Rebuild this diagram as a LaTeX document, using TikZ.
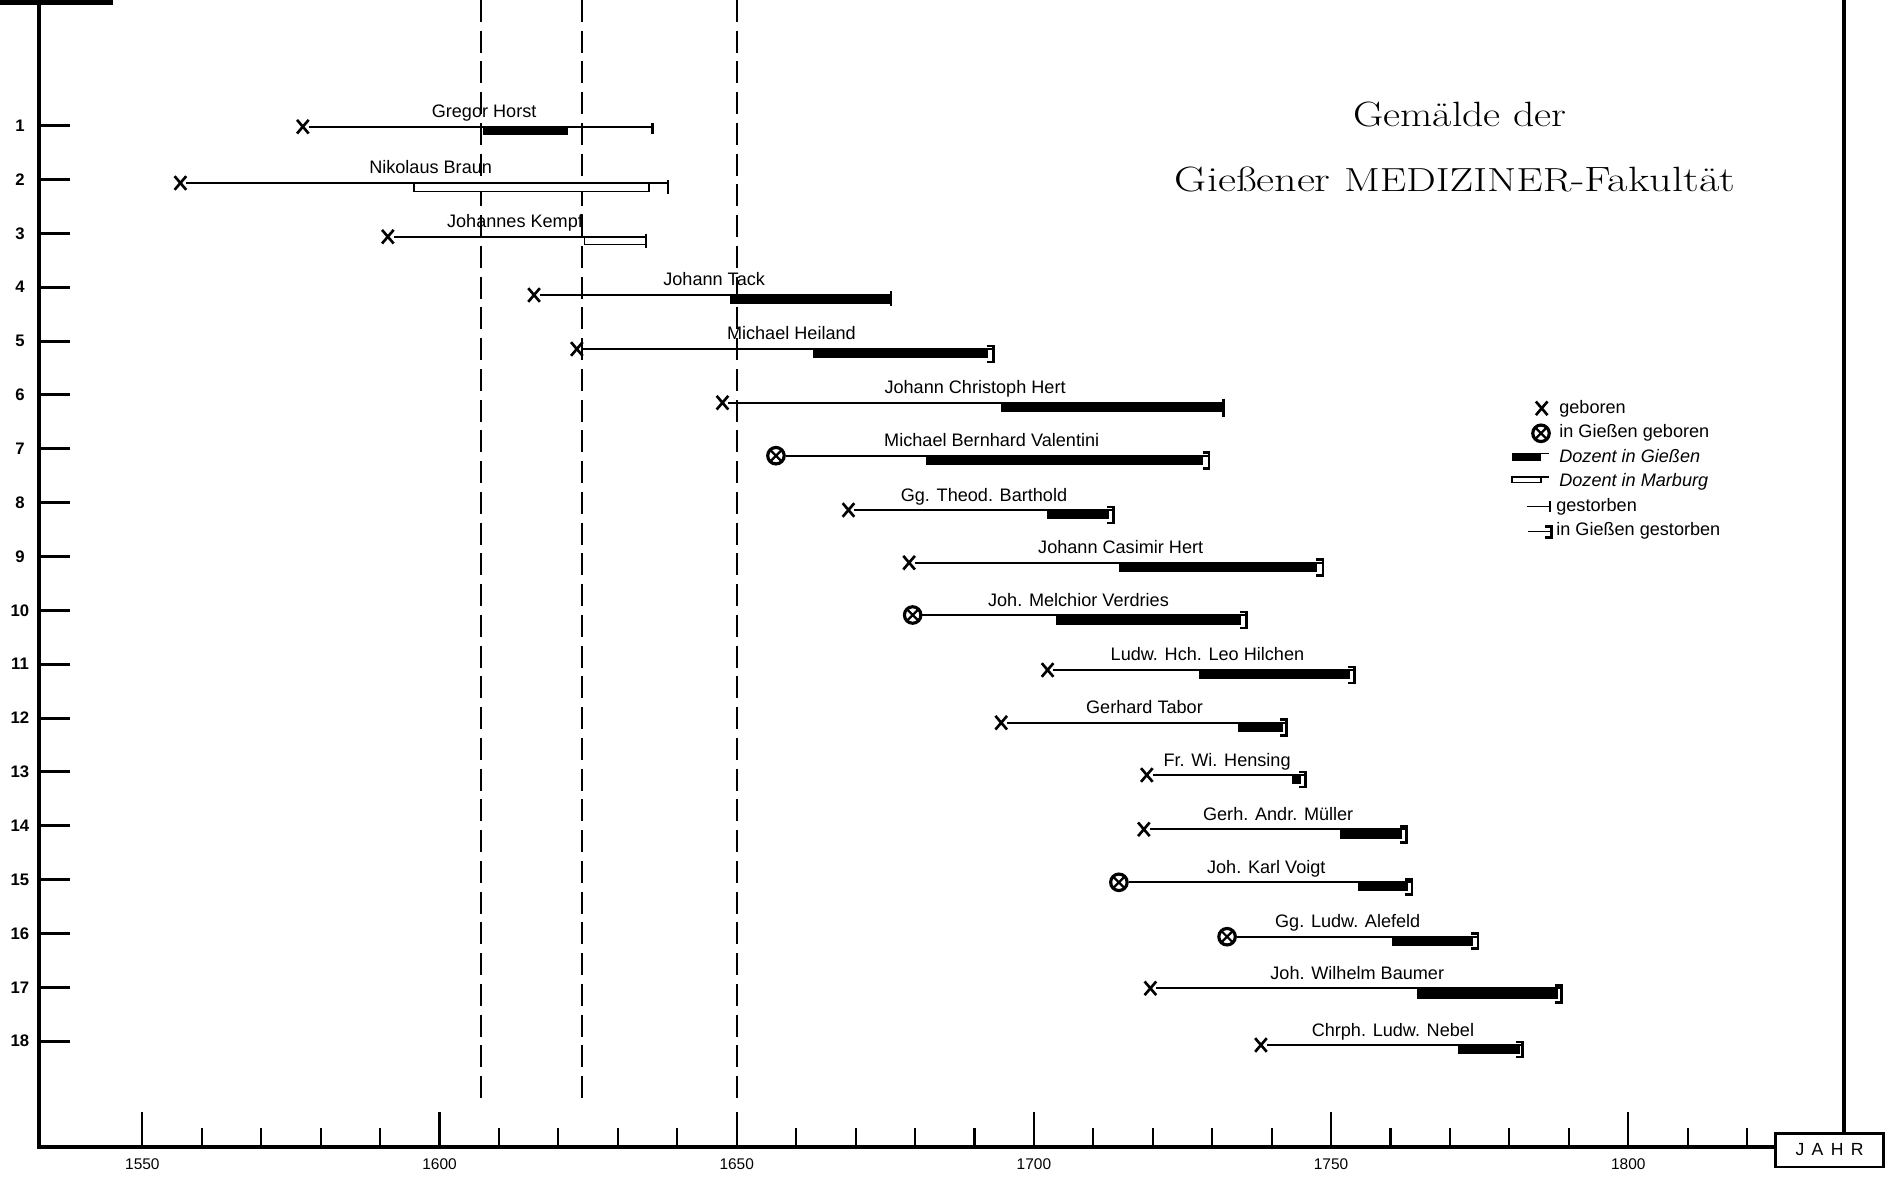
\documentclass[tikz,border=0pt]{standalone}
\usepackage{fontspec}
\setsansfont{Liberation Sans}
\usepackage{tikz}
\usetikzlibrary{shapes.misc}
\tikzset{
born/.style={draw, cross out, line width=1.5pt, minimum width=0.18cm, minimum height=0.22cm, inner sep=0pt}, % geboren
borngi/.style={draw, circle, fill=white, line width=1.8pt, minimum size=0.33cm, inner sep=0pt,
  path picture={\draw[line width=1.3pt]
    ([shift={(45:0.2cm)}]path picture bounding box.center) -- ([shift={(225:0.2cm)}]path picture bounding box.center)
    ([shift={(135:0.2cm)}]path picture bounding box.center) -- ([shift={(315:0.2cm)}]path picture bounding box.center);}}, % in Giessen geboren
life/.style={line width=1.1pt}, % the thin line of a life
docgi/.style={fill=black}, % Dozent in Giessen
docmr/.style={draw, line width=1pt, fill=white}, % Dozent in Marburg
died/.style={line width=1.4pt}, % gestorben
gidied/.style={line width=1.4pt}, % in Giessen gestorben
persname/.style={font=\sffamily\fontsize{10.3}{12}\selectfont, anchor=base, inner sep=0pt}, % names above the lines
legtext/.style={font=\sffamily\fontsize{10.3}{12}\selectfont, anchor=base west, inner sep=0pt},
rownum/.style={font=\sffamily\bfseries\fontsize{9.5}{11}\selectfont, inner sep=0pt},
yearnum/.style={font=\sffamily\fontsize{8.8}{10}\selectfont, inner sep=0pt},
title/.style={font=\rmfamily\fontsize{20}{24}\selectfont, anchor=base, inner sep=0pt},
axis/.style={line width=2.3pt},
rowtick/.style={line width=1.7pt},
tick/.style={line width=1.2pt},
epoch/.style={line width=1.3pt, dash pattern=on 12.5pt off 5pt}, % 1607, 1624, 1650
jahrbox/.style={draw, line width=1.7pt, minimum width=2.16cm, minimum height=0.68cm, inner sep=0pt, font=\sffamily\fontsize{10}{12}\selectfont},
}

\begin{document}
\begin{tikzpicture}[x=0.02cm, y=-0.02cm]
\useasboundingbox (0,0) rectangle (1891,1182);

\fill (0,0) rectangle (113,5);
\node[jahrbox] (jahr) at (1829.5,1150) {J\hspace{4.2pt}A\hspace{4.2pt}H\hspace{4.2pt}R};
\coordinate (corner) at (39,1147.3);
\coordinate (rtop) at (1844.3,0);
\draw[axis] (39,0) -- (corner) -- (corner -| jahr.west);
\draw[axis] (rtop) -- (rtop |- jahr.north);

\foreach \k in {1,...,18} {
  \pgfmathsetmacro{\ry}{125.7+53.85*(\k-1)}
  \draw[rowtick] (39,\ry) -- (70,\ry);
  \node[rownum] (r\k) at (20,\ry) {\k};
}

\node[title, xscale=1.19] (t1) at (1460,127) {Gemälde der};
\node[title, xscale=1.26] (t2) at (1455,192) {Gießener {\fontsize{19}{22}\selectfont MEDIZINER}-Fakultät};

\node[born] (lg1) at (1541.7,408.3) {};
\node[legtext] (lt1) at (1559,413.3) {geboren};
\node[borngi] (lg2) at (1541,433.3) {};
\node[legtext] (lt2) at (1559,437.8) {in Gießen geboren};
\fill[docgi] (1512,453.5) rectangle (1541,461.5);
\draw[life] (1512,453.5) -- (1548.5,453.5);
\node[legtext, font=\sffamily\itshape\fontsize{10.3}{12}\selectfont] (lt3) at (1559,462.3) {Dozent in Gießen};
\draw[docmr] (1512,477) rectangle (1541,482.5);
\draw[life] (1512,477) -- (1548.5,477);
\node[legtext, font=\sffamily\itshape\fontsize{10.3}{12}\selectfont] (lt4) at (1559,486.8) {Dozent in Marburg};
\draw[life] (1526.7,506.5) -- (1550,506.5);
\draw[died] (1550,501.5) -- (1550,512);
\node[legtext] (lt5) at (1556,511.3) {gestorben};
\draw[life] (1528,531.5) -- (1551.7,531.5);
\draw[gidied] (1545,526.5) -- (1551.7,526.5) -- (1551.7,537.5) -- (1545,537.5);
\node[legtext] (lt6) at (1556,535.8) {in Gießen gestorben};

\begin{scope}[x=0.1189cm, xshift=-181.441cm]
\foreach \yr in {1560,1570,...,1820} \draw[tick] (\yr,1147) -- (\yr,1128);
\foreach \yr in {1550,1600,...,1800} {
  \draw[tick] (\yr,1147) -- (\yr,1112);
  \node[yearnum] (y\yr) at (\yr,1164) {\yr};
}

\draw[epoch] (1607,0) -- (1607,1105);
\draw[epoch] (1624,0) -- (1624,1105);
\draw[epoch] (1650,0) -- (1650,1105);

\node[born] (b1) at (1577,126.7) {};
\coordinate (d1) at (1635.8,126.7);
\fill[docgi] (1607.3,125.7) rectangle (1621.6,135.5);
\draw[life] (b1) -- (d1);
\draw[died] (d1) ++(0,-4) -- ++(0,11);
\node[persname] (n1) at (1607.5,117.7) {Gregor Horst};

\node[born] (b2) at (1556.4,183) {};
\coordinate (d2) at (1638.4,183);
\draw[docmr] (1595.7,183) rectangle (1635.3,191.5);
\draw[life] (b2) -- (d2);
\draw[died] (d2) ++(0,-3) -- ++(0,14);
\node[persname] (n2) at (1598.5,174) {Nikolaus Braun};

\node[born] (b3) at (1591.3,236.7) {};
\coordinate (d3) at (1634.7,236.7);
\draw[docmr] (1624.4,236.7) rectangle (1634.7,244.5);
\draw[life] (b3) -- (d3);
\draw[died] (d3) ++(0,-3) -- ++(0,14.5);
\node[persname] (n3) at (1612.7,227.7) {Johannes Kempf};

\node[born] (b4) at (1615.9,295) {};
\coordinate (d4) at (1676,295);
\fill[docgi] (1648.9,294) rectangle (1676,304);
\draw[life] (b4) -- (d4);
\draw[died] (d4) ++(0,-4) -- ++(0,15);
\node[persname] (n4) at (1646.2,286) {Johann Tack};

\node[born] (b5) at (1623.1,349) {};
\coordinate (d5) at (1693.2,349);
\fill[docgi] (1662.9,348) rectangle (1692.2,358);
\draw[life] (b5) -- (d5);
\draw[gidied] (d5) ++(-1.1,-3) -- ++(1.1,0) -- ++(0,16) -- ++(-1.1,0);
\node[persname] (n5) at (1659.2,340) {Michael Heiland};

\node[born] (b6) at (1647.6,402.7) {};
\coordinate (d6) at (1731.9,402.7);
\fill[docgi] (1694.5,401.7) rectangle (1731.9,411.7);
\draw[life] (b6) -- (d6);
\draw[died] (d6) ++(0,-4) -- ++(0,18);
\node[persname] (n6) at (1690.1,393.7) {Johann Christoph Hert};

\node[borngi] (b7) at (1656.6,455.7) {};
\coordinate (d7) at (1729.5,455.7);
\fill[docgi] (1681.9,454.7) rectangle (1728.4,465);
\draw[life] (b7) -- (d7);
\draw[gidied] (d7) ++(-1.1,-3) -- ++(1.1,0) -- ++(0,16) -- ++(-1.1,0);
\node[persname] (n7) at (1692.9,446.7) {Michael Bernhard Valentini};

\node[born] (b8) at (1668.8,510) {};
\coordinate (d8) at (1713.4,510);
\fill[docgi] (1702.2,509) rectangle (1712.6,519);
\draw[life] (b8) -- (d8);
\draw[gidied] (d8) ++(-1.1,-3) -- ++(1.1,0) -- ++(0,16) -- ++(-1.1,0);
\node[persname] (n8) at (1691.6,501) {Gg. Theod. Barthold};

\node[born] (b9) at (1679,562.7) {};
\coordinate (d9) at (1748.6,562.7);
\fill[docgi] (1714.3,561.7) rectangle (1747.7,572);
\draw[life] (b9) -- (d9);
\draw[gidied] (d9) ++(-1.1,-3) -- ++(1.1,0) -- ++(0,16) -- ++(-1.1,0);
\node[persname] (n9) at (1714.6,553.7) {Johann Casimir Hert};

\node[borngi] (b10) at (1679.6,615) {};
\coordinate (d10) at (1735.8,615);
\fill[docgi] (1703.7,614) rectangle (1734.9,624.5);
\draw[life] (b10) -- (d10);
\draw[gidied] (d10) ++(-1.1,-3) -- ++(1.1,0) -- ++(0,16) -- ++(-1.1,0);
\node[persname] (n10) at (1707.5,606) {Joh. Melchior Verdries};

\node[born] (b11) at (1702.3,670) {};
\coordinate (d11) at (1753.9,670);
\fill[docgi] (1727.7,669) rectangle (1753.1,679);
\draw[life] (b11) -- (d11);
\draw[gidied] (d11) ++(-1.1,-3) -- ++(1.1,0) -- ++(0,16) -- ++(-1.1,0);
\node[persname] (n11) at (1729.2,661) {Ludw. Hch. Leo Hilchen};

\node[born] (b12) at (1694.5,722.7) {};
\coordinate (d12) at (1742.5,722.7);
\fill[docgi] (1734.3,721.7) rectangle (1741.9,731.5);
\draw[life] (b12) -- (d12);
\draw[gidied] (d12) ++(-1.1,-3) -- ++(1.1,0) -- ++(0,16) -- ++(-1.1,0);
\node[persname] (n12) at (1718.6,713.7) {Gerhard Tabor};

\node[born] (b13) at (1719,775) {};
\coordinate (d13) at (1745.7,775);
\fill[docgi] (1743.4,774) rectangle (1745,783.5);
\draw[life] (b13) -- (d13);
\draw[gidied] (d13) ++(-1.1,-3) -- ++(1.1,0) -- ++(0,15) -- ++(-1.1,0);
\node[persname] (n13) at (1732.5,766) {Fr. Wi. Hensing};

\node[born] (b14) at (1718.5,829.3) {};
\coordinate (d14) at (1762.7,829.3);
\fill[docgi] (1751.5,828.3) rectangle (1762,838.5);
\draw[life] (b14) -- (d14);
\draw[gidied] (d14) ++(-1.1,-3) -- ++(1.1,0) -- ++(0,16) -- ++(-1.1,0);
\node[persname] (n14) at (1741.1,820.3) {Gerh. Andr. Müller};

\node[borngi] (b15) at (1714.3,882.3) {};
\coordinate (d15) at (1763.6,882.3);
\fill[docgi] (1754.5,881.3) rectangle (1762.9,891);
\draw[life] (b15) -- (d15);
\draw[gidied] (d15) ++(-1.1,-3) -- ++(1.1,0) -- ++(0,15) -- ++(-1.1,0);
\node[persname] (n15) at (1739.1,873.3) {Joh. Karl Voigt};

\node[borngi] (b16) at (1732.5,936.7) {};
\coordinate (d16) at (1774.7,936.7);
\fill[docgi] (1760.3,935.7) rectangle (1773.8,945.5);
\draw[life] (b16) -- (d16);
\draw[gidied] (d16) ++(-1.1,-3) -- ++(1.1,0) -- ++(0,15) -- ++(-1.1,0);
\node[persname] (n16) at (1752.8,927.7) {Gg. Ludw. Alefeld};

\node[born] (b17) at (1719.6,988.3) {};
\coordinate (d17) at (1788.8,988.3);
\fill[docgi] (1764.4,987.3) rectangle (1788.1,999);
\draw[life] (b17) -- (d17);
\draw[gidied] (d17) ++(-1.1,-3) -- ++(1.1,0) -- ++(0,17) -- ++(-1.1,0);
\node[persname] (n17) at (1754.4,979.3) {Joh. Wilhelm Baumer};

\node[born] (b18) at (1738.2,1045) {};
\coordinate (d18) at (1782.2,1045);
\fill[docgi] (1771.3,1044) rectangle (1781.7,1054);
\draw[life] (b18) -- (d18);
\draw[gidied] (d18) ++(-1.1,-3) -- ++(1.1,0) -- ++(0,15) -- ++(-1.1,0);
\node[persname] (n18) at (1760.4,1036) {Chrph. Ludw. Nebel};
\end{scope}
\end{tikzpicture}
\end{document}
